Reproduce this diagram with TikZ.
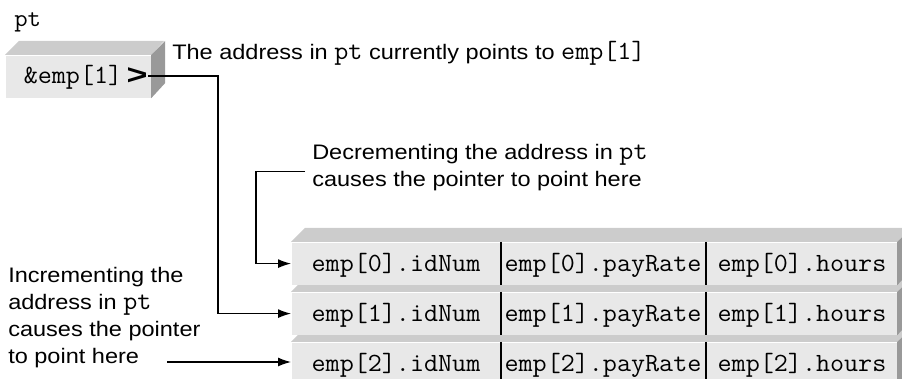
\documentclass[tikz,border=0pt]{standalone}
\usepackage{fontspec}
\setmainfont{Liberation Sans}[FakeStretch=1.12]
\setmonofont{Latin Modern Mono}[FakeStretch=1.04,Scale=1.25]
\usetikzlibrary{arrows.meta,calc}

\begin{document}
\begin{tikzpicture}[x=0.5pt,y=-0.5pt,
  font=\fontsize{10.5pt}{13.5pt}\selectfont,
  line width=0.6pt,
  front/.style={fill=black!9,inner sep=0pt,anchor=north west,minimum height=21pt},
  topface/.style={fill=black!20},
  sideface/.style={fill=black!40},
  cell/.style={font=\fontsize{10.5pt}{13.5pt}\selectfont\ttfamily,anchor=base},
  arr/.style={-{Latex[length=6.5pt,width=4.5pt]}}]
  \useasboundingbox (0,0) rectangle (902,379);
  % 指针 pt
  \node[anchor=base west,font=\ttfamily] (ptname) at (7,27) {pt};
  \node[front,minimum width=72.5pt] (ptbox) at (5,55) {};
  \fill[topface] (ptbox.north west) -- ++(14,-14) -- ++(145,0) -- (ptbox.north east) -- cycle;
  \fill[sideface] (ptbox.north east) -- ++(14,-14) -- ++(0,42) -- (ptbox.south east) -- cycle;
  \node[cell] (ptval) at (73,84) {\&emp[1]};
  \node[font=\bfseries,xscale=1.6,yscale=1.4,inner sep=0pt] (gt) at (137,76) {>};
  \node[anchor=base west] (ptnote) at (165,60) {The address in \texttt{pt} currently points to \texttt{emp[1]}};
  % 数组 emp（从下往上画）
  \foreach \i/\t in {2/342,1/292,0/242}{
    \node[front,minimum width=302.5pt] (row\i) at (291,\t) {};
    \fill[topface] (row\i.north west) -- ++(14,-14) -- ++(605,0) -- (row\i.north east) -- cycle;
    \fill[sideface] (row\i.north east) -- ++(14,-14) -- ++(0,42) -- (row\i.south east) -- cycle;
    \draw ($(row\i.north west)+(210,0)$) -- ($(row\i.south west)+(210,0)$);
    \draw ($(row\i.north west)+(415,0)$) -- ($(row\i.south west)+(415,0)$);
    \node[cell] (id\i) at ($(row\i.north west)+(105,30)$) {emp[\i].idNum};
    \node[cell] (pay\i) at ($(row\i.north west)+(312,30)$) {emp[\i].payRate};
    \node[cell] (hrs\i) at ($(row\i.north west)+(511,30)$) {emp[\i].hours};
  }
  % 说明文字
  \node[anchor=north west,align=left] (dec) at (305,137) {Decrementing the address in \texttt{pt}\\causes the pointer to point here};
  \node[anchor=north west,align=left] (inc) at (1,260) {Incrementing the\\address in \texttt{pt}\\causes the pointer\\to point here};
  \coordinate (incend) at (167,362);
  \coordinate (bend) at (218,0);
  % 箭头
  \draw[arr] (gt.east) -- (gt.east -| bend) |- (row1.west);
  \draw[arr] ([yshift=-2pt]dec.west) -- ++(-49,0) |- (row0.west);
  \draw[arr] (incend) -- (incend -| row2.west);
\end{tikzpicture}
\end{document}
